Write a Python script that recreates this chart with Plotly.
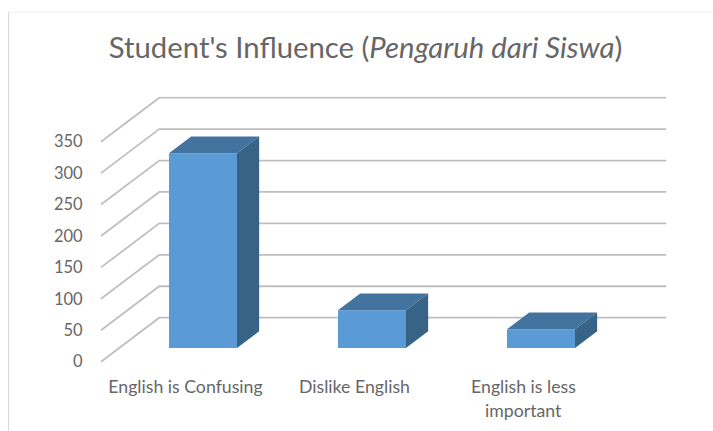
import plotly.graph_objects as go

# Data
categories = ["English is Confusing", "Dislike English", "English is less"]
category_second_line = ["", "", "important"]
values = [310, 60, 30]
value_ticks = [0, 50, 100, 150, 200, 250, 300, 350]
title_html = "Student's Influence (<i>Pengaruh dari Siswa</i>)"

W, H = 713, 431
FONT = "Lato"
GREY = "#666666"

# oblique 3-D projection, in axis units
DEPTH_X = 58.3 / 169      # category units for full chart depth
DEPTH_Y = 70              # value units for full chart depth
BAR_W = 68 / 169
BAR_D = 0.38


def dom_x(a, b):
    return [a / W, b / W]


def dom_y(top, bottom):
    return [1 - bottom / H, 1 - top / H]


fig = go.Figure()

# Gridlines: front edge -> back wall -> right end (front-plane axes)
for v in value_ticks:
    fig.add_trace(go.Scatter(
        x=[-0.5, -0.5 + DEPTH_X, 2.5 + DEPTH_X],
        y=[v, v + DEPTH_Y, v + DEPTH_Y],
        mode="lines", line=dict(color="#bfbfbf", width=1.8),
        hoverinfo="skip", xaxis="x", yaxis="y",
    ))

# Front faces
fig.add_trace(go.Bar(
    x=[0, 1, 2], y=values, width=BAR_W,
    marker=dict(color="#5b9bd5", line=dict(width=0)),
    xaxis="x2", yaxis="y2", cliponaxis=False,
))

# Top and side faces
dx, dy = BAR_D * DEPTH_X, BAR_D * DEPTH_Y
for i, v in enumerate(values):
    l, r = i - BAR_W / 2, i + BAR_W / 2
    fig.add_trace(go.Scatter(
        x=[l, r, r + dx, l + dx, l], y=[v, v, v + dy, v + dy, v],
        mode="lines", fill="toself", fillcolor="#42749f", line=dict(width=0),
        hoverinfo="skip", xaxis="x2", yaxis="y2",
    ))
    fig.add_trace(go.Scatter(
        x=[r, r + dx, r + dx, r, r], y=[0, dy, v + dy, v, 0],
        mode="lines", fill="toself", fillcolor="#376387", line=dict(width=0),
        hoverinfo="skip", xaxis="x2", yaxis="y2",
    ))

annotations = [
    dict(text=t, x=i, y=0, xref="x", yref="y", yshift=-49, showarrow=False,
         font=dict(family=FONT, size=17.7, color=GREY))
    for i, t in enumerate(category_second_line) if t
]

fig.update_layout(
    width=W, height=H, autosize=False,
    margin=dict(l=0, r=0, t=0, b=0, autoexpand=False),
    paper_bgcolor="white", plot_bgcolor="rgba(0,0,0,0)",
    showlegend=False,
    title=dict(text=title_html, x=365.5 / W, xanchor="center", y=1 - 48 / H, yanchor="middle",
               font=dict(family=FONT, size=29.3, color=GREY)),
    xaxis=dict(domain=dom_x(97.6, 668.8), range=[-0.52, 2.86], anchor="y",
               tickvals=[0, 1, 2], ticktext=categories, ticklabelstandoff=11,
               showgrid=False, zeroline=False, showline=False, ticks="",
               tickangle=0, tickfont=dict(family=FONT, size=17.7, color=GREY)),
    yaxis=dict(domain=dom_y(96.4, 362.96), range=[-2, 422], anchor="x",
               tickvals=value_ticks, ticklabelstandoff=14,
               showgrid=False, zeroline=False, showline=False, ticks="",
               tickfont=dict(family=FONT, size=16.5, color=GREY)),
    xaxis2=dict(domain=dom_x(118.5, 625.5), range=[-0.5, 2.5], anchor="y2", visible=False),
    yaxis2=dict(domain=dom_y(128, 348), range=[0, 350], anchor="x2", visible=False),
    annotations=annotations,
    shapes=[
        dict(type="line", xref="paper", yref="paper", x0=8.5 / W, x1=1, y0=1 - 12 / H, y1=1 - 12 / H,
             line=dict(color="#ececec", width=1)),
        dict(type="line", xref="paper", yref="paper", x0=8.5 / W, x1=8.5 / W, y0=0, y1=1 - 12 / H,
             line=dict(color="#d9d9d9", width=1)),
    ],
)

fig.write_html("out.html", config={"displayModeBar": False},
               post_script="document.body.style.margin='0';")
